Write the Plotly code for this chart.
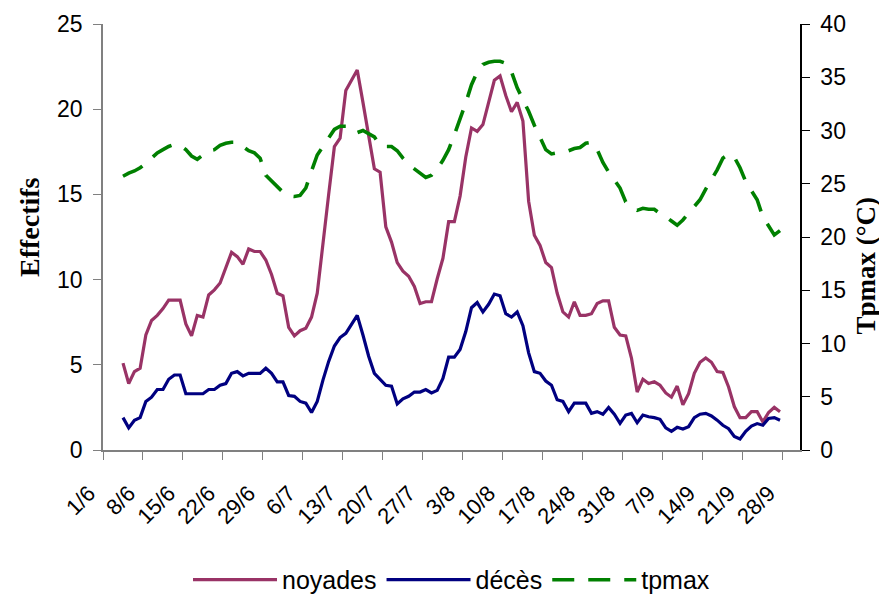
import pandas as pd
import plotly.graph_objects as go

# Daily values (4/6 to 27/9)
noyades = [5.1, 3.9, 4.6, 4.8, 6.75, 7.6, 7.9, 8.3, 8.8, 8.8, 8.8, 7.4, 6.7, 7.9, 7.8, 9.1,
           9.4, 9.8, 10.7, 11.6, 11.35, 10.9, 11.8, 11.65, 11.65, 11.15, 10.3, 9.2, 9.05, 7.2,
           6.7, 7.0, 7.15, 7.8, 9.2, 12.3, 15.0, 17.8, 18.3, 21.1, 21.7, 22.3, 20.4, 18.4, 16.5,
           16.3, 13.1, 12.2, 11.0, 10.5, 10.2, 9.6, 8.6, 8.7, 8.7, 10.05, 11.25, 13.4, 13.4, 14.9,
           17.2, 18.9, 18.7, 19.1, 20.35, 21.7, 21.95, 20.8, 19.85, 20.4, 19.3, 14.6, 12.6, 12.0,
           11.0, 10.7, 9.2, 8.1, 7.8, 8.7, 7.9, 7.9, 8.0, 8.6, 8.75, 8.75, 7.2, 6.75, 6.7, 5.4,
           3.4, 4.15, 3.9, 4.0, 3.8, 3.35, 3.1, 3.75, 2.65, 3.3, 4.5, 5.15, 5.4, 5.15, 4.6, 4.55,
           3.7, 2.55, 1.9, 1.9, 2.25, 2.25, 1.65, 2.2, 2.5, 2.25]
deces = [1.9, 1.3, 1.75, 1.9, 2.85, 3.1, 3.55, 3.55, 4.15, 4.4, 4.4, 3.3, 3.3, 3.3, 3.3, 3.55,
         3.55, 3.8, 3.9, 4.5, 4.6, 4.35, 4.5, 4.5, 4.5, 4.8, 4.5, 4.0, 4.0, 3.2, 3.15, 2.85,
         2.75, 2.2, 2.85, 4.1, 5.2, 6.1, 6.6, 6.85, 7.35, 7.9, 6.75, 5.5, 4.5, 4.15, 3.8, 3.75,
         2.7, 3.0, 3.15, 3.4, 3.4, 3.55, 3.35, 3.5, 4.2, 5.45, 5.45, 5.9, 6.95, 8.35, 8.65, 8.1,
         8.55, 9.15, 9.05, 8.0, 7.8, 8.1, 7.3, 5.7, 4.6, 4.5, 4.05, 3.8, 2.95, 2.85, 2.25, 2.75,
         2.75, 2.75, 2.15, 2.25, 2.1, 2.5, 2.1, 1.56, 2.05, 2.15, 1.6, 2.05, 1.95, 1.9, 1.8, 1.3,
         1.1, 1.33, 1.23, 1.37, 1.9, 2.1, 2.15, 2.0, 1.75, 1.45, 1.25, 0.8, 0.65, 1.1, 1.4, 1.55,
         1.45, 1.85, 1.9, 1.75]
tpmax = [25.7, 26.0, 26.2, 26.5, 26.9, 27.4, 27.9, 28.2, 28.5, 28.7, 28.6, 28.2, 27.6, 27.3,
         27.7, 28.1, 28.2, 28.6, 28.8, 28.9, 28.9, 28.45, 28.1, 27.9, 27.4, 25.8, 25.3, 24.7,
         24.2, 23.85, 23.8, 23.9, 24.6, 26.2, 27.7, 28.5, 29.3, 30.1, 30.4, 30.4, 29.9, 29.8,
         30.0, 29.7, 29.4, 28.6, 28.5, 28.5, 28.1, 27.4, 26.8, 26.4, 26.0, 25.6, 25.8, 26.4,
         27.2, 28.2, 29.6, 31.0, 32.6, 34.3, 35.5, 36.2, 36.4, 36.5, 36.5, 36.3, 35.5, 34.0,
         32.9, 31.8, 30.5, 29.4, 28.2, 27.8, 27.9, 28.0, 28.1, 28.3, 28.4, 28.8, 28.9, 28.2,
         27.0, 26.1, 25.4, 24.6, 23.3, 22.8, 22.5, 22.7, 22.6, 22.6, 22.2, 21.9, 21.5, 21.1,
         21.6, 22.2, 22.8, 23.5, 24.5, 25.4, 26.3, 27.4, 27.8, 27.5, 26.5, 25.2, 24.3, 23.5,
         21.9, 21.0, 20.2, 20.6]

first_day = "2003-06-04"
tick_dates = pd.date_range("2003-06-01", "2003-09-28", freq="7D")
tick_labels = ["1/6", "8/6", "15/6", "22/6", "29/6", "6/7", "13/7", "20/7", "27/7", "3/8",
               "10/8", "17/8", "24/8", "31/8", "7/9", "14/9", "21/9", "28/9"]

# points sit in the middle of each day's slot
days = pd.date_range(first_day, periods=len(noyades), freq="D") + pd.Timedelta(hours=12)

fig = go.Figure()
fig.add_trace(go.Scatter(x=days, y=noyades, name="noyades", mode="lines",
                         line=dict(color="#993366", width=3.2)))
fig.add_trace(go.Scatter(x=days, y=deces, name="décès", mode="lines",
                         line=dict(color="#000080", width=3.2)))
fig.add_trace(go.Scatter(x=days, y=tpmax, name="tpmax", mode="lines", yaxis="y2",
                         line=dict(color="#008000", width=3.6, dash="22px,14px")))

sans = "Liberation Sans, Arial, sans-serif"
serif = "Liberation Serif, Times New Roman, serif"

fig.update_layout(
    width=879, height=588,
    margin=dict(l=95, r=87, t=16, b=146, autoexpand=False),
    paper_bgcolor="white", plot_bgcolor="white",
    font=dict(family=sans, size=22, color="black"),
    showlegend=True,
    legend=dict(orientation="h", x=0.5, xanchor="center", y=-0.305, yanchor="middle",
                font=dict(family=sans, size=25), itemwidth=84, tracegroupgap=0,
                bgcolor="rgba(0,0,0,0)"),
    xaxis=dict(
        type="date", range=["2003-06-01", "2003-10-01"],
        tickvals=tick_dates, ticktext=tick_labels, tickangle=-45,
        tickfont=dict(family=sans, size=22),
        ticks="outside", ticklen=8, tickcolor="#808080", tickwidth=1,
        showline=True, linecolor="#808080", linewidth=1.5,
        showgrid=False, zeroline=False,
        ticklabelstandoff=12, ticklabelshift=-14,
    ),
    yaxis=dict(
        range=[0, 25], dtick=5, tick0=0,
        tickfont=dict(family=sans, size=23),
        ticks="outside", ticklen=8, tickcolor="#808080",
        showline=True, linecolor="#808080", linewidth=1.5,
        showgrid=False, zeroline=False, ticklabelstandoff=6,
    ),
    yaxis2=dict(
        range=[0, 40], dtick=5, tick0=0, overlaying="y", side="right",
        tickfont=dict(family=sans, size=23),
        ticks="outside", ticklen=8, tickcolor="black",
        showline=True, linecolor="black", linewidth=1.5,
        showgrid=False, zeroline=False, ticklabelstandoff=6,
    ),
    annotations=[
        dict(text="<b>Effectifs</b>", textangle=-90, xref="paper", yref="paper",
             x=-0.1047, y=0.5235, xanchor="center", yanchor="middle", showarrow=False,
             font=dict(family=serif, size=28, color="black")),
        dict(text="<b>Tpmax (°C)</b>", textangle=-90, xref="paper", yref="paper",
             x=1.094, y=0.432, xanchor="center", yanchor="middle", showarrow=False,
             font=dict(family=serif, size=27, color="black")),
    ],
)

fig.write_html("out.html")
